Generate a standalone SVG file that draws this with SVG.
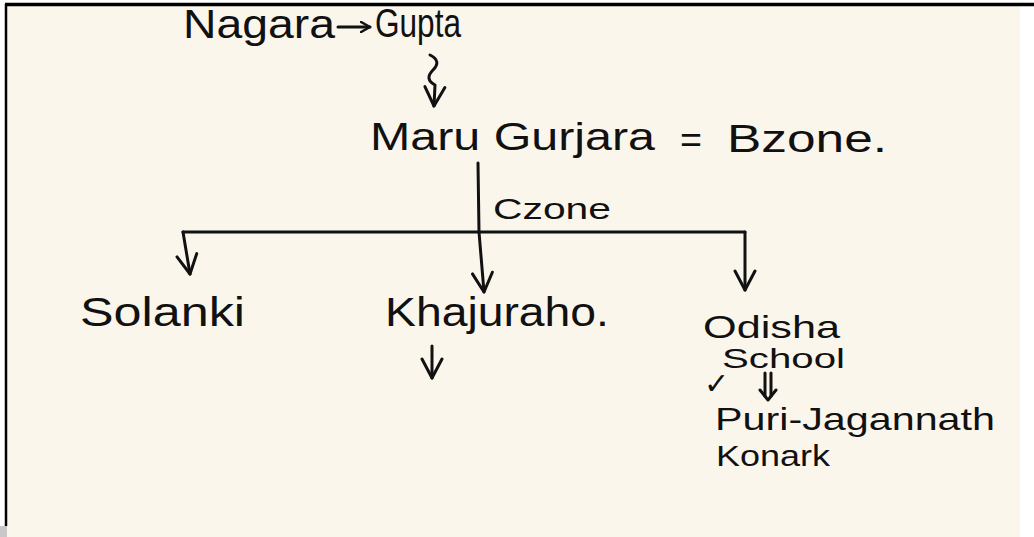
<svg xmlns="http://www.w3.org/2000/svg" width="1034" height="537" viewBox="0 0 1034 537">
<style>
.t{font-family:"Liberation Sans","DejaVu Sans",sans-serif;fill:#111;}
.c{fill:none;stroke:#111;stroke-width:3;stroke-linecap:round;stroke-linejoin:round;}
</style>
<defs>
<marker id="ah" viewBox="0 0 12 12" refX="10" refY="6" markerWidth="12" markerHeight="12" markerUnits="userSpaceOnUse" orient="auto">
<path d="M1,1 L10,6 L1,11" fill="none" stroke="#111" stroke-width="2.5" stroke-linecap="round" stroke-linejoin="round"/>
</marker>
<marker id="ahL" viewBox="0 0 24 24" refX="21" refY="12" markerWidth="24" markerHeight="24" markerUnits="userSpaceOnUse" orient="auto">
<path d="M2,2 L21,12 L2,22" fill="none" stroke="#111" stroke-width="3" stroke-linecap="round" stroke-linejoin="round"/>
</marker>
</defs>
<rect width="1034" height="537" fill="#ffffff"/>
<rect x="6" y="5" width="1014" height="532" fill="#fbf6ec"/>
<rect x="0" y="526" width="7" height="11" fill="#c8c8c8"/>
<line x1="5" y1="4.5" x2="1034" y2="4.5" stroke="#000" stroke-width="3.5"/>
<line x1="6" y1="4" x2="6" y2="526" stroke="#000" stroke-width="2.5"/>

<g id="connectors">
<line class="c" x1="338" y1="27" x2="370" y2="27" marker-end="url(#ah)"/>
<path class="c" d="M430,55 q12,6 3,15 q-9,9 2,15 L434,106" marker-end="url(#ahL)"/>
<path class="c" d="M478,163 L479,232 L484,292" marker-end="url(#ahL)"/>
<path class="c" d="M183,232 H745"/>
<path class="c" d="M183,232 L190,274" marker-end="url(#ahL)"/>
<path class="c" d="M745,232 V290" marker-end="url(#ahL)"/>
<path class="c" d="M432,346 V378" marker-end="url(#ahL)"/>
<path class="c" d="M765,373 V396 M771,373 V396"/>
<path class="c" d="M760,390 L768,400 L776,390"/>
</g>

<g id="node-nagara"><text class="t" x="183" y="38" font-size="40" textLength="152" lengthAdjust="spacingAndGlyphs">Nagara</text></g>
<g id="node-gupta"><text class="t" x="375" y="37" font-size="40" textLength="86" lengthAdjust="spacingAndGlyphs">Gupta</text></g>
<g id="node-maru-gurjara"><text class="t" x="370" y="150" font-size="38" textLength="285" lengthAdjust="spacingAndGlyphs">Maru Gurjara</text></g>
<g id="node-bzone">
<text class="t" x="680" y="152" font-size="36" textLength="22" lengthAdjust="spacingAndGlyphs">=</text>
<text class="t" x="727" y="152" font-size="38" textLength="160" lengthAdjust="spacingAndGlyphs">Bzone.</text>
</g>
<g id="label-czone"><text class="t" x="493" y="219" font-size="30" textLength="118" lengthAdjust="spacingAndGlyphs">Czone</text></g>
<g id="node-solanki"><text class="t" x="80" y="326" font-size="40" textLength="165" lengthAdjust="spacingAndGlyphs">Solanki</text></g>
<g id="node-khajuraho"><text class="t" x="385" y="326" font-size="40" textLength="224" lengthAdjust="spacingAndGlyphs">Khajuraho.</text></g>
<g id="node-odisha-school">
<text class="t" x="703" y="338" font-size="32" textLength="137" lengthAdjust="spacingAndGlyphs">Odisha</text>
<text class="t" x="722" y="368" font-size="28" textLength="123" lengthAdjust="spacingAndGlyphs">School</text>
<text x="704" y="394" font-family="DejaVu Sans, sans-serif" font-size="30" fill="#111">✓</text>
</g>
<g id="node-puri-konark">
<text class="t" x="715" y="430" font-size="32" textLength="280" lengthAdjust="spacingAndGlyphs">Puri-Jagannath</text>
<text class="t" x="716" y="466" font-size="30" textLength="114" lengthAdjust="spacingAndGlyphs">Konark</text>
</g>
</svg>
